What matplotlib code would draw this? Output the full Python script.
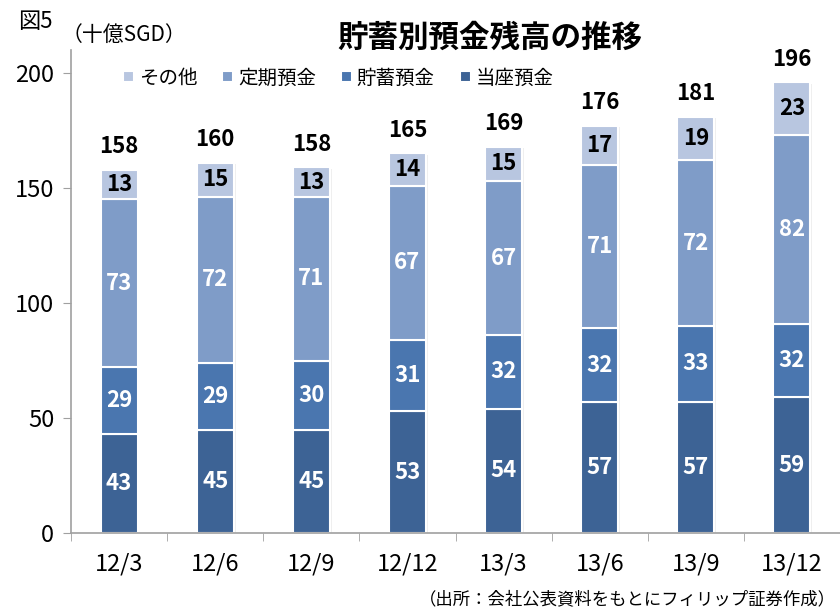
import numpy as np
import matplotlib.pyplot as plt

plt.rcParams['font.family'] = ['Noto Sans CJK JP', 'DejaVu Sans']

quarters = ["12/3", "12/6", "12/9", "12/12", "13/3", "13/6", "13/9", "13/12"]
touza = [43, 45, 45, 53, 54, 57, 57, 59]      # 当座預金
chochiku = [29, 29, 30, 31, 32, 32, 33, 32]   # 貯蓄預金
teiki = [73, 72, 71, 67, 67, 71, 72, 82]      # 定期預金
sonota = [13, 15, 13, 14, 15, 17, 19, 23]     # その他
totals = [158, 160, 158, 165, 169, 176, 181, 196]

series = [
    ("当座預金", touza, "#3D6395", "white"),
    ("貯蓄預金", chochiku, "#4A76AF", "white"),
    ("定期預金", teiki, "#7F9CC8", "white"),
    ("その他", sonota, "#B8C6E0", "black"),
]


def draw_plot():
    fig = plt.figure(figsize=(8.4, 6.12), dpi=100)
    ax = fig.add_axes([71 / 840, 1 - 533 / 612, 769 / 840, 483 / 612])

    x = np.arange(len(quarters))
    width = 0.385
    bottom = np.zeros(len(quarters))
    handles = []
    for name, vals, color, tcolor in series:
        vals = np.array(vals)
        # faint shadow on the right side
        ax.bar(x + 0.02, vals, width, bottom=bottom - 0.6, color="#EFEFEF",
               edgecolor="none", zorder=1)
        b = ax.bar(x, vals, width, bottom=bottom, color=color,
                   edgecolor="white", linewidth=1.5, zorder=2, label=name)
        handles.append(b)
        for xi, v, b0 in zip(x, vals, bottom):
            ax.text(xi, b0 + v / 2, str(v), ha="center", va="center",
                    fontsize=16, fontweight="bold", color=tcolor, zorder=3)
        bottom = bottom + vals

    for xi, t, top in zip(x, totals, bottom):
        ax.text(xi, top + 10, str(t), ha="center", va="center",
                fontsize=16, fontweight="bold", color="black")

    ax.set_xlim(-0.5, 7.5)
    ax.set_ylim(0, 210)
    ax.set_yticks([0, 50, 100, 150, 200])
    ax.set_xticks(x)
    ax.set_xticklabels(quarters)
    ax.set_xticks(np.arange(-0.5, 7.6, 1), minor=True)
    ax.tick_params(axis="x", which="major", length=0, pad=14, labelsize=17)
    ax.tick_params(axis="x", which="minor", length=6, color="#A0A0A0")
    ax.tick_params(axis="y", length=6, color="#A0A0A0", labelsize=17, pad=6)

    for side in ["top", "right"]:
        ax.spines[side].set_visible(False)
    for side in ["left", "bottom"]:
        ax.spines[side].set_color("#A0A0A0")
        ax.spines[side].set_linewidth(1.2)

    order = [handles[3], handles[2], handles[1], handles[0]]
    ax.legend(order, [h.get_label() for h in order], loc="upper left",
              bbox_to_anchor=(0.045, 1.0), ncol=4, frameon=False,
              fontsize=14, handlelength=0.55, handleheight=0.55,
              handletextpad=0.25, columnspacing=1.3)

    fig.text(490 / 840, 1 - 38 / 612, "貯蓄別預金残高の推移", ha="center",
             va="center", fontsize=22, fontweight="bold")
    fig.text(18 / 840, 1 - 22 / 612, "図5", ha="left", va="center", fontsize=16)
    fig.text(62 / 840, 1 - 35 / 612, "（十億SGD）", ha="left", va="center",
             fontsize=15)
    fig.text(836 / 840, 1 - 599 / 612, "（出所：会社公表資料をもとにフィリップ証券作成）",
             ha="right", va="center", fontsize=12.5)

    fig.savefig("out.png", dpi=100)


def main():
    draw_plot()


if __name__ == '__main__':
    main()
